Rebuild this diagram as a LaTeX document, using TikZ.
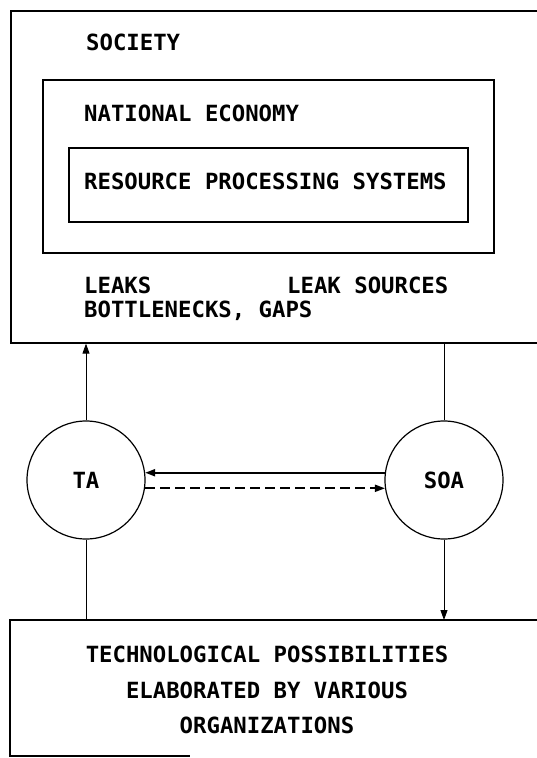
\documentclass[tikz,border=0pt]{standalone}
\usepackage{fontspec}
\setmonofont{DejaVu Sans Mono}
\usetikzlibrary{arrows.meta,calc}
\begin{document}
\begin{tikzpicture}[x=1pt,y=-1pt,
  box/.style={draw,line width=1.6pt,rectangle,anchor=north west,inner sep=0pt},
  circ/.style={draw,line width=1.2pt,circle,minimum size=118pt,inner sep=0pt,font=\fontsize{22.3}{24}\ttfamily\bfseries},
  lbl/.style={anchor=base west,inner sep=0pt,font=\fontsize{22.3}{24}\ttfamily\bfseries},
  clbl/.style={anchor=base,inner sep=0pt,font=\fontsize{22.3}{24}\ttfamily\bfseries},
  conn/.style={line width=0.9pt},
  tip/.style={-{Triangle[length=10pt,width=7pt]}}
]
\useasboundingbox (0,0) rectangle (537,758);
\clip (0,0) rectangle (537,758);
% boxes
\node[box,minimum width=600pt,minimum height=332pt] (outer) at (10,10) {};
\node[box,minimum width=451pt,minimum height=173pt] (mid) at (42,79) {};
\node[box,minimum width=399pt,minimum height=74pt] (inner) at (68,147) {};
\node[anchor=north west,inner sep=0pt,minimum width=600pt,minimum height=140pt] (tech) at (10,620) {};
\draw[line width=1.6pt] (tech.north east) -- (tech.north west) -- (10,756) -- (190,756);
% texts
\node[lbl] (society) at (86,50) {SOCIETY};
\node[lbl] (natecon) at (84,121) {NATIONAL ECONOMY};
\node[lbl] (rps) at (84,189) {RESOURCE PROCESSING SYSTEMS};
\node[lbl] (leaks) at (84,293) {LEAKS};
\node[lbl] (leaksrc) at (287,293) {LEAK SOURCES};
\node[lbl] (bottle) at (84,317) {BOTTLENECKS, GAPS};
\node[clbl] (t1) at (267,662) {TECHNOLOGICAL POSSIBILITIES};
\node[clbl] (t2) at (267,698) {ELABORATED BY VARIOUS};
\node[clbl] (t3) at (267,733) {ORGANIZATIONS};
% circles
\node[circ] (TA) at (86,480) {TA};
\node[circ] (SOA) at (444,480) {SOA};
% connectors
\draw[conn,tip] (TA.north) -- (TA.north |- outer.south);
\draw[conn] (SOA.north) -- (SOA.north |- outer.south);
\draw[conn] (TA.south) -- (TA.south |- tech.north);
\draw[conn,tip] (SOA.south) -- (SOA.south |- tech.north);
\draw[line width=2pt,tip] (SOA.173) -- (TA.7);
\draw[line width=1.8pt,dash pattern=on 10pt off 5pt,tip] (TA.-8.5) -- (SOA.188.5);
\end{tikzpicture}
\end{document}
